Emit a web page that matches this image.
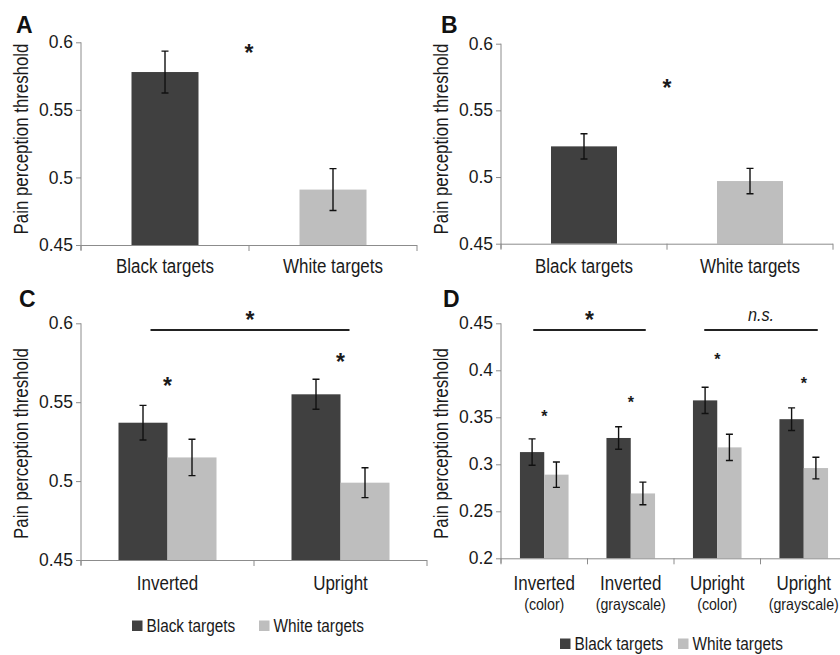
<!DOCTYPE html>
<html>
<head>
<meta charset="utf-8">
<script src="https://cdn.jsdelivr.net/npm/d3@7"></script>
<style>
  body { margin: 0; background: #ffffff; }
  svg { display: block; font-family: "Liberation Sans", Arial, sans-serif; }
  .yAxis path, .yAxis line, .xLine { stroke: #8c8c8c; stroke-width: 1; }
  .yAxis text { fill: #1a1a1a; font-size: 17.5px; }
</style>
</head>
<body>
<div id="chart"></div>
<script>
// Panel A + B: one bar per target race
var targetNames = ["Black targets", "White targets"];
var meansA = [0.578, 0.491];
var errorsA = [0.0155, 0.0155];
var meansB = [0.523, 0.497];
var errorsB = [0.0095, 0.0095];

// Panel C: orientation x target race
var orientationC = ["Inverted", "Upright"];
var blackMeansC = [0.537, 0.555];
var blackErrorsC = [0.011, 0.0095];
var whiteMeansC = [0.515, 0.499];
var whiteErrorsC = [0.0115, 0.0095];
var starLevelsC = [0.563, 0.5785];

// Panel D: orientation/colour x target race
var orientationD = ["Inverted", "Inverted", "Upright", "Upright"];
var conditionD = ["(color)", "(grayscale)", "(color)", "(grayscale)"];
var blackMeansD = [0.313, 0.328, 0.368, 0.348];
var blackErrorsD = [0.014, 0.012, 0.014, 0.012];
var whiteMeansD = [0.289, 0.269, 0.318, 0.296];
var whiteErrorsD = [0.0135, 0.012, 0.014, 0.0115];
var starLevelsD = [0.354, 0.3695, 0.4145, 0.390];

// Tick labels
var ticksABC = [0.45, 0.5, 0.55, 0.6];
var ticksD = [0.2, 0.25, 0.3, 0.35, 0.4, 0.45];

var colors = ["#404040", "#bebebe"];
var width = 840;
var height = 655;

var svg = d3
  .select("#chart")
  .append("svg")
  .attr("width", width)
  .attr("height", height);

// The figure's type is a bit narrow, so squeeze text horizontally
function addText(parent, x, y, str, size, sx, anchor) {
  return parent
    .append("text")
    .attr("transform", "translate(" + x + "," + y + ")scale(" + sx + ",1)")
    .attr("text-anchor", anchor || "middle")
    .attr("font-size", size)
    .attr("fill", "#1a1a1a")
    .text(str);
}

// Draw one panel of bars with error bars
function drawPanel(p) {
  var g = svg.append("g");

  var xScale = d3
    .scaleBand()
    .domain(d3.range(p.nCats))
    .range([p.left, p.right]);
  var yScale = d3
    .scaleLinear()
    .domain(p.domain)
    .range([p.bottom, p.top]);

  var slotScale = d3
    .scaleBand()
    .domain(d3.range(p.nSlots))
    .range([0, p.groupWidth]);

  function barX(d) {
    return xScale(d.cat) + (xScale.bandwidth() - p.groupWidth) / 2 + slotScale(d.slot);
  }

  // y axis
  var yAxis = d3
    .axisLeft(yScale)
    .tickValues(p.ticks)
    .tickSize(5)
    .tickPadding(3)
    .tickFormat(function(d) { return String(d); });
  g.append("g")
    .attr("class", "yAxis")
    .attr("transform", "translate(" + p.left + ",0)")
    .call(yAxis)
    .call(function(a) { a.select(".domain").attr("d", "M0," + p.top + "V" + (p.bottom + 5)); });

  // bars
  g.selectAll("rect.bar")
    .data(p.bars)
    .enter()
    .append("rect")
    .attr("class", "bar")
    .attr("x", barX)
    .attr("y", function(d) { return yScale(d.value); })
    .attr("width", slotScale.bandwidth())
    .attr("height", function(d) { return p.bottom - yScale(d.value); })
    .attr("fill", function(d) { return d.color; });

  // x axis line + ticks at band edges
  g.append("line")
    .attr("class", "xLine")
    .attr("x1", p.left)
    .attr("x2", p.right)
    .attr("y1", p.bottom + 0.5)
    .attr("y2", p.bottom + 0.5);
  g.selectAll("line.xTick")
    .data(d3.range(p.nCats + 1))
    .enter()
    .append("line")
    .attr("class", "xLine")
    .attr("x1", function(i) { return p.left + i * xScale.step(); })
    .attr("x2", function(i) { return p.left + i * xScale.step(); })
    .attr("y1", p.bottom)
    .attr("y2", p.bottom + 6);

  // error bars
  var cap = 3.5;
  g.selectAll("path.err")
    .data(p.bars)
    .enter()
    .append("path")
    .attr("fill", "none")
    .attr("stroke", "#111")
    .attr("stroke-width", 1.4)
    .attr("d", function(d) {
      var cx = barX(d) + slotScale.bandwidth() / 2;
      var y1 = yScale(d.value + d.err);
      var y2 = yScale(d.value - d.err);
      return "M" + (cx - cap) + "," + y1 + "H" + (cx + cap) +
        "M" + cx + "," + y1 + "V" + y2 +
        "M" + (cx - cap) + "," + y2 + "H" + (cx + cap);
    });

  // category labels
  p.labels.forEach(function(lines, i) {
    var cx = xScale(i) + xScale.bandwidth() / 2;
    lines.forEach(function(line, j) {
      addText(g, cx, p.labelY[j], line, p.labelSize[j], 0.87);
    });
  });

  // significance stars
  (p.stars || []).forEach(function(s) {
    var sx = s.slot === "edge" ? xScale(s.cat) : xScale(s.cat) + xScale.bandwidth() / 2;
    addText(g, sx, yScale(s.v) + s.size * 0.55, "*", s.size, 1)
      .attr("font-weight", "bold");
  });

  // brackets across groups
  (p.brackets || []).forEach(function(b) {
    var x1 = xScale(b.from) + xScale.bandwidth() / 2 + b.dx1;
    var x2 = xScale(b.to) + xScale.bandwidth() / 2 + b.dx2;
    var by = yScale(b.v);
    g.append("line")
      .attr("x1", x1).attr("x2", x2)
      .attr("y1", by).attr("y2", by)
      .attr("stroke", "#222")
      .attr("stroke-width", 2);
    if (b.label === "*") {
      addText(g, (x1 + x2) / 2, by - 15 + 23 * 0.55, "*", 23, 1).attr("font-weight", "bold");
    } else {
      addText(g, (x1 + x2) / 2, by - 9, b.label, 18.5, 0.88).attr("font-style", "italic");
    }
  });

  // y axis title
  svg.append("text")
    .attr("transform", "translate(" + p.titleX + "," + p.titleY + ")rotate(-90)scale(0.81,1)")
    .attr("text-anchor", "middle")
    .attr("font-size", 20.8)
    .attr("fill", "#1a1a1a")
    .text("Pain perception threshold");

  // panel letter
  svg.append("text")
    .attr("x", p.letterX)
    .attr("y", p.letterY)
    .attr("font-size", 23)
    .attr("font-weight", "bold")
    .attr("fill", "#111")
    .text(p.letter);
}

function singleBars(means, errs) {
  return means.map(function(v, i) {
    return { cat: i, slot: 0, value: v, err: errs[i], color: colors[i] };
  });
}

function pairedBars(bm, be, wm, we) {
  var out = [];
  bm.forEach(function(v, i) {
    out.push({ cat: i, slot: 0, value: v, err: be[i], color: colors[0] });
    out.push({ cat: i, slot: 1, value: wm[i], err: we[i], color: colors[1] });
  });
  return out;
}

// Panel A
drawPanel({
  letter: "A", letterX: 16, letterY: 33,
  left: 81, right: 417, top: 42.3, bottom: 245,
  domain: [0.45, 0.6], ticks: ticksABC,
  nCats: 2, nSlots: 1, groupWidth: 67,
  bars: singleBars(meansA, errorsA),
  labels: targetNames.map(function(n) { return [n]; }),
  labelY: [273], labelSize: [19.5],
  stars: [{ cat: 1, slot: "edge", v: 0.5958, size: 23 }],
  titleX: 28, titleY: 139
});

// Panel B
drawPanel({
  letter: "B", letterX: 441, letterY: 33,
  left: 501, right: 833, top: 43.7, bottom: 243.7,
  domain: [0.45, 0.6], ticks: ticksABC,
  nCats: 2, nSlots: 1, groupWidth: 66,
  bars: singleBars(meansB, errorsB),
  labels: targetNames.map(function(n) { return [n]; }),
  labelY: [273], labelSize: [19.5],
  stars: [{ cat: 1, slot: "edge", v: 0.5705, size: 23 }],
  titleX: 448, titleY: 139
});

// Panel C
drawPanel({
  letter: "C", letterX: 19, letterY: 307,
  left: 81, right: 427, top: 323.3, bottom: 560,
  domain: [0.45, 0.6], ticks: ticksABC,
  nCats: 2, nSlots: 2, groupWidth: 98,
  bars: pairedBars(blackMeansC, blackErrorsC, whiteMeansC, whiteErrorsC),
  labels: orientationC.map(function(n) { return [n]; }),
  labelY: [590], labelSize: [19.5],
  stars: starLevelsC.map(function(v, i) { return { cat: i, v: v, size: 23 }; }),
  brackets: [{ from: 0, to: 1, dx1: -17, dx2: 9, v: 0.5958, label: "*" }],
  titleX: 28, titleY: 443.5
});

// Panel D
drawPanel({
  letter: "D", letterX: 443, letterY: 307,
  left: 501, right: 847, top: 323.3, bottom: 558.3,
  domain: [0.2, 0.45], ticks: ticksD,
  nCats: 4, nSlots: 2, groupWidth: 48.6,
  bars: pairedBars(blackMeansD, blackErrorsD, whiteMeansD, whiteErrorsD),
  labels: orientationD.map(function(n, i) { return [n, conditionD[i]]; }),
  labelY: [590, 610], labelSize: [19.5, 16.3],
  stars: starLevelsD.map(function(v, i) { return { cat: i, v: v, size: 16 }; }),
  brackets: [
    { from: 0, to: 1, dx1: -11, dx2: 15, v: 0.4429, label: "*" },
    { from: 2, to: 3, dx1: -13, dx2: 14, v: 0.4429, label: "n.s." }
  ],
  titleX: 448, titleY: 443.5
});

// Legends
function drawLegend(x0, x1, y) {
  [x0, x1].forEach(function(lx, i) {
    svg.append("rect")
      .attr("x", lx)
      .attr("y", y - 11.5)
      .attr("width", 10.5)
      .attr("height", 10.5)
      .attr("fill", colors[i]);
    addText(svg, lx + 14.5, y, targetNames[i], 18.5, 0.83, "start");
  });
}
drawLegend(132, 259, 632);
drawLegend(560, 678, 650);
</script>
</body>
</html>
